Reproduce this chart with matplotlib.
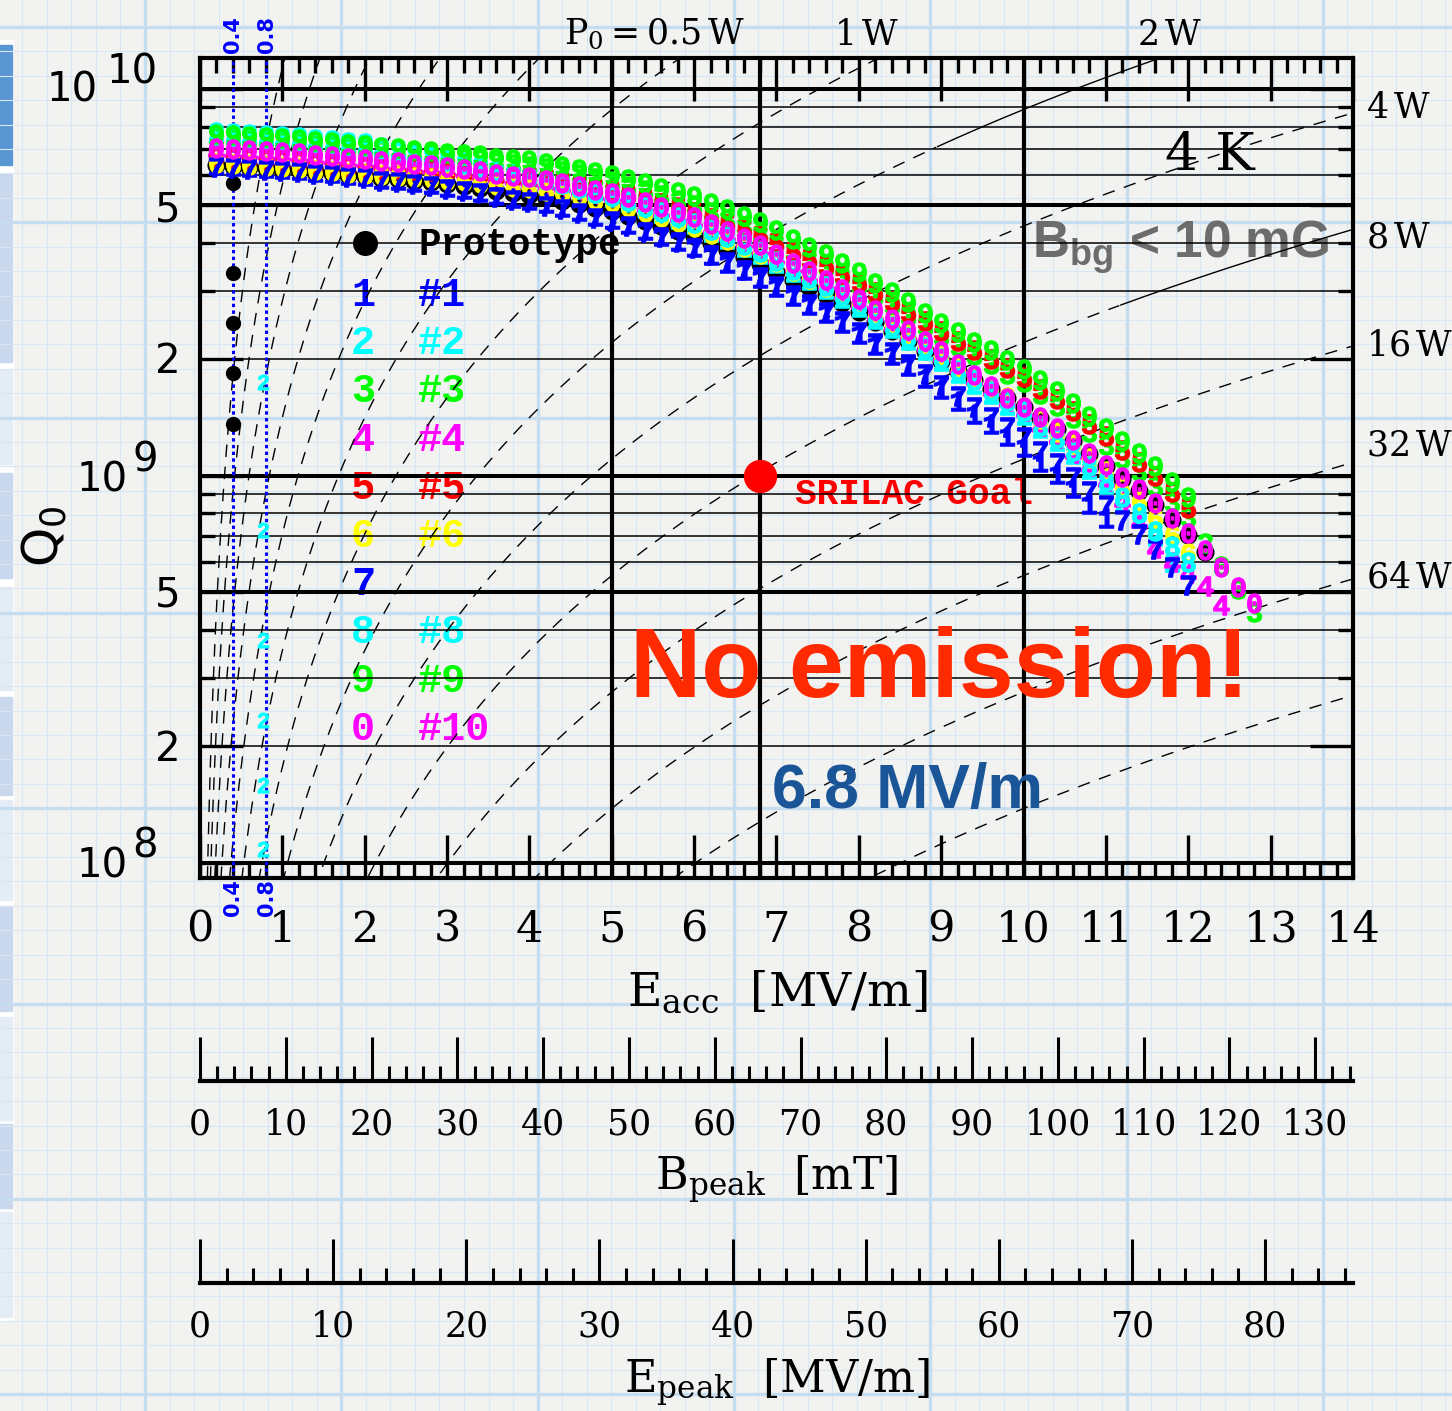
import numpy as np
import matplotlib
matplotlib.use('Agg')
import matplotlib.pyplot as plt
from matplotlib.ticker import FixedLocator, MultipleLocator, NullFormatter
from matplotlib.patches import Rectangle

W, H = 1452, 1411

plt.rcParams['font.family'] = ['DejaVu Serif']
plt.rcParams['mathtext.fontset'] = 'custom'
plt.rcParams['mathtext.tt'] = 'Liberation Mono:bold'

# accelerating gradient of the measured points [MV/m]
eacc = [0.2, 0.4, 0.6, 0.8, 1.0, 1.2, 1.4, 1.6, 1.8, 2.0,
        2.2, 2.4, 2.6, 2.8, 3.0, 3.2, 3.4, 3.6, 3.8, 4.0,
        4.2, 4.4, 4.6, 4.8, 5.0, 5.2, 5.4, 5.6, 5.8, 6.0,
        6.2, 6.4, 6.6, 6.8, 7.0, 7.2, 7.4, 7.6, 7.8, 8.0,
        8.2, 8.4, 8.6, 8.8, 9.0, 9.2, 9.4, 9.6, 9.8, 10.0,
        10.2, 10.4, 10.6, 10.8, 11.0, 11.2, 11.4, 11.6, 11.8, 12.0,
        12.2, 12.4, 12.6, 12.8]

# Q0 in units of 1e9
q_proto = [6.36, 6.32, 6.28, 6.25, 6.21, 6.18, 6.11, 6.07, 6.00, 5.96,
           5.89, 5.86, 5.79, 5.75, 5.68, 5.61, 5.55, 5.45, 5.38, 5.32,
           5.23, 5.14, 5.04, 4.92, 4.84, 4.70, 4.56, 4.43, 4.30, 4.17,
           4.00, 3.84, 3.68, 3.53, 3.37, 3.21, 3.07, 2.94, 2.80, 2.66,
           2.50, 2.37, 2.23, 2.10, 1.98, 1.87, 1.77, 1.68, 1.59, 1.51,
           1.41, 1.32, 1.23, 1.14, 1.06, 0.98, 0.915, 0.842, 0.770, 0.704,
           0.637]
q1 = [6.36, 6.32, 6.28, 6.25, 6.21, 6.18, 6.11, 6.07, 6.00, 5.96,
      5.87, 5.82, 5.74, 5.68, 5.59, 5.51, 5.43, 5.32, 5.23, 5.16,
      5.06, 4.96, 4.84, 4.71, 4.62, 4.47, 4.32, 4.18, 4.04, 3.90,
      3.72, 3.56, 3.40, 3.25, 3.08, 2.91, 2.77, 2.63, 2.49, 2.33,
      2.18, 2.05, 1.92, 1.79, 1.68, 1.56, 1.45, 1.36, 1.27, 1.19,
      1.09, 1.01, 0.929, 0.849, 0.778]
q2 = [7.74, 7.69, 7.64, 7.61, 7.56, 7.52, 7.44, 7.39, 7.30, 7.25,
      7.10, 7.00, 6.86, 6.76, 6.62, 6.48, 6.35, 6.19, 6.05, 5.94,
      5.81, 5.67, 5.53, 5.38, 5.27, 5.09, 4.92, 4.77, 4.62, 4.47,
      4.27, 4.09, 3.91, 3.75, 3.56, 3.37, 3.21, 3.05, 2.89, 2.73,
      2.55, 2.41, 2.25, 2.11, 1.98, 1.85, 1.73, 1.63, 1.53, 1.44,
      1.33, 1.23, 1.14, 1.04, 0.954, 0.853, 0.778, 0.699, 0.600]
q3 = [7.51, 7.46, 7.42, 7.38, 7.33, 7.30, 7.22, 7.17, 7.09, 7.04,
      6.96, 6.92, 6.84, 6.79, 6.71, 6.64, 6.58, 6.47, 6.40, 6.34,
      6.24, 6.14, 6.03, 5.89, 5.80, 5.63, 5.47, 5.32, 5.16, 5.00,
      4.80, 4.61, 4.42, 4.22, 4.01, 3.81, 3.63, 3.46, 3.29, 3.11,
      2.92, 2.76, 2.59, 2.44, 2.30, 2.17, 2.05, 1.95, 1.84, 1.75,
      1.63, 1.52, 1.41, 1.30, 1.20, 1.11, 1.03, 0.943, 0.859, 0.784,
      0.67, 0.585, 0.51, 0.445]
q4 = [6.91, 6.87, 6.83, 6.79, 6.75, 6.72, 6.64, 6.60, 6.52, 6.48,
      6.40, 6.37, 6.29, 6.25, 6.17, 6.10, 6.03, 5.92, 5.85, 5.78,
      5.69, 5.60, 5.49, 5.36, 5.28, 5.13, 4.98, 4.84, 4.70, 4.56,
      4.37, 4.20, 4.02, 3.86, 3.66, 3.46, 3.29, 3.13, 2.96, 2.80,
      2.61, 2.46, 2.31, 2.17, 2.04, 1.90, 1.78, 1.67, 1.56, 1.47,
      1.35, 1.25, 1.15, 1.06, 0.970, 0.86, 0.76, 0.65, 0.60, 0.56,
      0.52, 0.465]
q5 = [6.67, 6.63, 6.59, 6.56, 6.51, 6.48, 6.41, 6.37, 6.30, 6.27,
      6.23, 6.21, 6.18, 6.15, 6.11, 6.07, 6.03, 5.97, 5.92, 5.88,
      5.81, 5.73, 5.63, 5.52, 5.45, 5.32, 5.19, 5.07, 4.95, 4.82,
      4.65, 4.49, 4.32, 4.17, 3.99, 3.80, 3.64, 3.50, 3.33, 3.17,
      2.99, 2.83, 2.66, 2.51, 2.37, 2.23, 2.12, 2.01, 1.90, 1.80,
      1.68, 1.58, 1.47, 1.36, 1.27, 1.17, 1.09, 1.00, 0.909, 0.826]
q6 = [6.44, 6.40, 6.36, 6.33, 6.28, 6.25, 6.18, 6.14, 6.07, 6.03,
      5.98, 5.97, 5.91, 5.89, 5.83, 5.78, 5.73, 5.65, 5.59, 5.54,
      5.46, 5.38, 5.28, 5.17, 5.09, 4.95, 4.81, 4.67, 4.54, 4.41,
      4.23, 4.07, 3.90, 3.75, 3.57, 3.39, 3.23, 3.08, 2.93, 2.77,
      2.60, 2.46, 2.31, 2.17, 2.04, 1.91, 1.80, 1.70, 1.60, 1.51,
      1.40, 1.30, 1.21, 1.11, 1.03, 0.937, 0.861, 0.781, 0.702, 0.632]
q7 = [6.28, 6.24, 6.20, 6.18, 6.14, 6.11, 6.04, 6.00, 5.93, 5.89,
      5.80, 5.75, 5.67, 5.61, 5.53, 5.44, 5.37, 5.25, 5.17, 5.10,
      4.99, 4.89, 4.78, 4.65, 4.56, 4.42, 4.28, 4.15, 4.02, 3.89,
      3.72, 3.57, 3.41, 3.27, 3.10, 2.93, 2.79, 2.65, 2.51, 2.36,
      2.21, 2.09, 1.95, 1.83, 1.72, 1.61, 1.51, 1.42, 1.34, 1.26,
      1.16, 1.08, 0.995, 0.913, 0.841, 0.769, 0.710, 0.646, 0.583, 0.523]
q8 = [7.60, 7.55, 7.50, 7.47, 7.42, 7.39, 7.30, 7.25, 7.17, 7.12,
      6.98, 6.89, 6.76, 6.66, 6.53, 6.41, 6.30, 6.15, 6.04, 5.94,
      5.81, 5.68, 5.55, 5.40, 5.30, 5.13, 4.97, 4.81, 4.66, 4.51,
      4.32, 4.14, 3.96, 3.79, 3.60, 3.41, 3.24, 3.09, 2.93, 2.77,
      2.59, 2.44, 2.29, 2.15, 2.02, 1.88, 1.77, 1.66, 1.56, 1.47,
      1.35, 1.25, 1.16, 1.06, 0.970, 0.882, 0.801, 0.72, 0.66, 0.60]
q9 = [7.64, 7.60, 7.55, 7.51, 7.46, 7.43, 7.34, 7.30, 7.21, 7.16,
      7.08, 7.04, 6.96, 6.91, 6.83, 6.79, 6.74, 6.65, 6.59, 6.54,
      6.44, 6.34, 6.23, 6.09, 6.00, 5.85, 5.70, 5.56, 5.42, 5.28,
      5.08, 4.90, 4.71, 4.53, 4.31, 4.10, 3.91, 3.74, 3.56, 3.37,
      3.16, 2.99, 2.81, 2.64, 2.48, 2.35, 2.22, 2.11, 1.99, 1.89,
      1.77, 1.66, 1.54, 1.43, 1.33, 1.23, 1.15, 1.06, 0.966, 0.883]
q10 = [7.03, 6.99, 6.95, 6.91, 6.87, 6.84, 6.76, 6.71, 6.64, 6.59,
       6.51, 6.48, 6.40, 6.36, 6.28, 6.21, 6.15, 6.04, 5.97, 5.91,
       5.82, 5.72, 5.61, 5.49, 5.40, 5.25, 5.10, 4.96, 4.82, 4.67,
       4.48, 4.30, 4.12, 3.95, 3.75, 3.55, 3.38, 3.21, 3.04, 2.87,
       2.69, 2.54, 2.38, 2.23, 2.10, 1.95, 1.82, 1.71, 1.59, 1.51,
       1.42, 1.33, 1.24, 1.15, 1.07, 0.992, 0.926, 0.852, 0.779, 0.712,
       0.644, 0.582, 0.517, 0.470]

# repeated low-field measurements
proto_hold_e = 0.4
proto_hold_q = [5.72, 3.35, 2.49, 1.85, 1.36]
cav2_hold_e = 0.76
cav2_hold_q = [1.75, 0.725, 0.377, 0.234, 0.159, 0.109]

cav_marks = ['1', '2', '3', '4', '5', '6', '7', '8', '9', '0']
cav_names = ['#1', '#2', '#3', '#4', '#5', '#6', '', '#8', '#9', '#10']
cav_colors = ['#0000ff', '#00ffff', '#00ff00', '#ff00ff', '#ff0000',
              '#ffff00', '#0000ff', '#00ffff', '#00ff00', '#ff00ff']
cav_q = [q1, q2, q3, q4, q5, q6, q7, q8, q9, q10]

# constant heat load lines Q0 = k * Eacc^2 / P0
k_geom = 1.77e8
powers = [1/64, 1/32, 1/16, 1/8, 1/4, 0.5, 1, 2, 4, 8, 16, 32, 64, 128]
goal_e, goal_q = 6.8, 1e9

bpeak_max = 134.4
epeak_max = 86.6


def fx(x):
    return x / W


def fy(y):
    return 1 - y / H


fig = plt.figure(figsize=(W / 100, H / 100), dpi=100)
fig.patch.set_facecolor('#f2f2f1')

# graph paper background
bg = fig.add_axes([0, 0, 1, 1], zorder=-5)
bg.set_xlim(0, W)
bg.set_ylim(H, 0)
bg.axis('off')
for x in np.arange(145 - 196.3, W, 196.3 / 8):
    bg.axvline(x, color='#d9e7f2', lw=0.8)
for y in np.arange(27, H, 195.3 / 8):
    bg.axhline(y, color='#d9e7f2', lw=0.8)
for x in np.arange(145 - 196.3, W, 196.3):
    bg.axvline(x, color='#c6ddef', lw=2.4)
for y in np.arange(27, H, 195.3):
    bg.axhline(y, color='#c6ddef', lw=2.4)

# slide panel strip on the left
bg.add_patch(Rectangle((0, 40), 13, 1280, color='white'))
panel = [(45, 165, '#5a96d2'), (174, 362, '#c9d8ec'), (370, 464, '#e4ecf6'),
         (473, 578, '#c9d8ec'), (587, 690, '#e4ecf6'), (697, 795, '#c9d8ec'),
         (800, 900, '#e4ecf6'), (906, 1011, '#c9d8ec'), (1017, 1120, '#e4ecf6'),
         (1124, 1208, '#c9d8ec'), (1212, 1317, '#e4ecf6')]
for y0, y1, c in panel:
    bg.add_patch(Rectangle((0, y0), 11.5, y1 - y0, color=c))

# main plot
ax = fig.add_axes([fx(200), fy(878), 1153 / W, 820 / H])
ax.patch.set_alpha(0)
ax.set_yscale('log')
ax.set_xlim(0, 14)
ax.set_ylim(10 ** 7.9612, 10 ** 10.0801)

for dec in [1e8, 1e9]:
    for m in range(1, 10):
        thick = m in (1, 5)
        ax.axhline(m * dec, color='k', lw=2.9 if thick else 1.1, zorder=1)
ax.axhline(1e10, color='k', lw=2.9, zorder=1)
for xv in [5, 10, 6.8]:
    ax.axvline(xv, color='k', lw=3, zorder=1)

e_line = np.linspace(0.005, 14, 800)
for p in powers:
    q_line = k_geom * e_line ** 2 / p
    cut = {2: 8.95, 8: 11.17}.get(p, 99)
    m = e_line <= cut
    ax.plot(e_line[m], q_line[m], color='k', lw=1.0, dashes=(9, 7), zorder=1.5)
    if cut < 99:
        ax.plot(e_line[~m], q_line[~m], color='k', lw=1.0, zorder=1.5)

for xv in [0.4, 0.8]:
    ax.axvline(xv, color='#0000ff', lw=2.2, dashes=(1.1, 1.1), zorder=2)

ax.plot(eacc[:len(q_proto)], np.array(q_proto) * 1e9, 'o', color='k', ms=12, zorder=3)
ax.plot([proto_hold_e] * len(proto_hold_q), np.array(proto_hold_q) * 1e9, 'o',
        color='k', ms=10, zorder=3)
for i, (mk, col, q) in enumerate(zip(cav_marks, cav_colors, cav_q)):
    ax.plot(eacc[:len(q)], np.array(q) * 1e9, ls='none', marker=r'$\mathtt{%s}$' % mk,
            ms=14, color=col, mew=0.7, zorder=4 + i * 0.01)
ax.plot([cav2_hold_e] * len(cav2_hold_q), np.array(cav2_hold_q) * 1e9, ls='none',
        marker=r'$\mathtt{2}$', ms=11, color='#00ffff', mew=0.5, zorder=4)

ax.plot([goal_e], [goal_q], 'o', color='#ff0000', ms=23, zorder=5)

# axes decoration
for s in ax.spines.values():
    s.set_linewidth(3)
ax.xaxis.set_major_locator(MultipleLocator(1))
ax.xaxis.set_minor_locator(MultipleLocator(0.2))
ax.yaxis.set_major_locator(FixedLocator([1e8, 2e8, 5e8, 1e9, 2e9, 5e9, 1e10]))
ax.yaxis.set_minor_locator(FixedLocator([m * d for d in [1e8, 1e9] for m in (3, 4, 6, 7, 8, 9)]))
ax.yaxis.set_major_formatter(NullFormatter())
ax.yaxis.set_minor_formatter(NullFormatter())
ax.tick_params(which='both', direction='in', top=True, right=True, width=2.4, color='k')
ax.tick_params(which='major', length=31)
ax.tick_params(which='minor', length=11)
ax.tick_params(axis='x', which='major', labelsize=31, pad=22)

# y tick labels
ysans = dict(family='DejaVu Sans', fontsize=29, va='center')
for y, s in [(210, '5'), (362, '2'), (596, '5'), (750, '2')]:
    fig.text(fx(181), fy(y), s, ha='right', **ysans)
for yb, ye, e, xb in [(91, 73, '10', 98), (480, 461, '9', 128), (867, 847, '8', 128)]:
    fig.text(fx(xb), fy(yb), '10', ha='right', **ysans)
    fig.text(fx(158), fy(ye), e, ha='right', **ysans)
fig.text(fx(44), fy(536), r'$\mathregular{Q_0}$', family='DejaVu Sans', fontsize=36,
         rotation=90, ha='center', va='center')

fig.text(fx(777), fy(993), r'$\mathregular{E_{acc}}$  [MV/m]', fontsize=34,
         ha='center', va='center')

# top and right power labels
fig.text(fx(655), fy(35), r'$\mathregular{P_0 = 0.5\,W}$', fontsize=25, ha='center', va='center')
fig.text(fx(867), fy(35), r'1$\,$W', fontsize=25, ha='center', va='center')
fig.text(fx(1170), fy(35), r'2$\,$W', fontsize=25, ha='center', va='center')
for y, s in [(108, '4'), (238, '8'), (345, '16'), (445, '32'), (578, '64')]:
    fig.text(fx(1366), fy(y), s + r'$\,$W', fontsize=25, ha='left', va='center')

# blue guide labels
for xv, s in [(233, '0.4'), (267, '0.8')]:
    for y in [35, 898]:
        fig.text(fx(xv), fy(y), s, family='DejaVu Sans', weight='bold', fontsize=15,
                 color='#0000ff', rotation=90, ha='center', va='center')

# legend and notes under the grid lines
def atext(x, y, s, z=0.5, **kw):
    ax.text(fx(x), fy(y), s, transform=fig.transFigure, zorder=z, **kw)


mono = dict(family='Liberation Mono', weight='bold', va='center')
ax.plot([fx(365)], [fy(243)], 'o', color='k', ms=17, transform=fig.transFigure,
        zorder=0.6, clip_on=False)
atext(418, 245, 'Prototype', fontsize=27, color='k', ha='left', **mono)
for i, (mk, nm, col) in enumerate(zip(cav_marks, cav_names, cav_colors)):
    y = 295 + i * 48.2
    atext(363, y, mk, fontsize=29, color=col, ha='center', **mono)
    if nm:
        atext(418, y, nm, fontsize=29, color=col, ha='left', **mono)

atext(1210, 155, '4 K', fontsize=38, ha='center', va='center')
atext(1032, 258, r'$\mathregular{B_{bg}}$ < 10 mG', family='Liberation Sans', weight='bold',
      fontsize=37, color='#6c6c6c', ha='left', va='baseline')
atext(795, 495, 'SRILAC Goal', family='Liberation Mono', weight='bold', fontsize=26,
      color='#ff0000', ha='left', va='center')
atext(940, 697, 'No emission!', z=6, family='Liberation Sans', weight='bold', fontsize=71,
      color='#ff2a00', ha='center', va='baseline')
atext(772, 808, '6.8 MV/m', z=6, family='Liberation Sans', weight='bold', fontsize=45,
      color='#1a5597', ha='left', va='baseline')

# secondary scales
for ypix, xmax, lab, ylab in [(1081, bpeak_max, r'$\mathregular{B_{peak}}$  [mT]', 1180),
                              (1283, epeak_max, r'$\mathregular{E_{peak}}$  [MV/m]', 1383)]:
    bx = fig.add_axes([fx(200), fy(ypix), 1153 / W, 0.0001])
    bx.patch.set_alpha(0)
    bx.set_xlim(0, xmax)
    for s in ['top', 'left', 'right']:
        bx.spines[s].set_visible(False)
    bx.spines['bottom'].set_linewidth(3)
    bx.set_yticks([])
    bx.xaxis.set_major_locator(MultipleLocator(10))
    bx.xaxis.set_minor_locator(MultipleLocator(2))
    bx.tick_params(axis='x', which='both', direction='in', width=2.2, color='k')
    bx.tick_params(axis='x', which='major', length=32, labelsize=25, pad=19)
    bx.tick_params(axis='x', which='minor', length=11)
    fig.text(fx(777), fy(ylab), lab, fontsize=32, ha='center', va='center')

fig.savefig('out.png', dpi=100, facecolor=fig.get_facecolor())
